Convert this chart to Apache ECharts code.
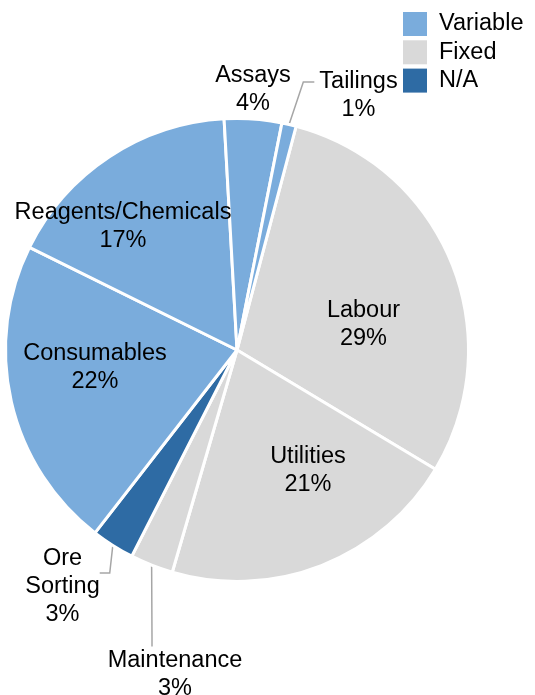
<!DOCTYPE html>
<html><head><meta charset="utf-8">
<script src="https://cdn.jsdelivr.net/npm/echarts@6/dist/echarts.min.js"></script>
<style>html,body{margin:0;padding:0;background:#fff}#chart{width:535px;height:695px}</style>
</head><body><div id="chart"></div>
<script>
// ---- data ----
const categories = ['Labour', 'Utilities', 'Maintenance', 'Ore Sorting', 'Consumables', 'Reagents/Chemicals', 'Assays', 'Tailings'];
const shares = [29.5, 20.9, 3.0, 3.0, 21.8, 16.8, 4.0, 1.0];
const costTypes = ['Fixed', 'Fixed', 'Fixed', 'N/A', 'Variable', 'Variable', 'Variable', 'Variable'];
const legendNames = ['Variable', 'Fixed', 'N/A'];

// ---- styles / label placement ----
const typeColors = { 'Variable': '#7aacdc', 'Fixed': '#d9d9d9', 'N/A': '#2e6ba4' };
const FONT = '"Liberation Sans", Arial, Helvetica, sans-serif';
const FS = 23.5;
const labelPlace = {
  'Labour': { x: 363.5, y: 324.5 },
  'Utilities': { x: 308, y: 470.5 },
  'Consumables': { x: 95, y: 368 },
  'Reagents/Chemicals': { x: 123, y: 226.5 },
  'Assays': { x: 253, y: 89.5, outside: true, line: false, len2: 0 },
  'Tailings': { x: 356, y: 82, outside: true, line: true, len2: 11, padding: [0, 0, 0, 5], pre: ' \n' },
  'Ore Sorting': { x: 62.5, y: 573, outside: true, line: true, len2: 10, pre: ' \n', text: 'Ore\nSorting' },
  'Maintenance': { x: 152, y: 674.5, outside: true, line: true, len2: 10, padding: [0, 0, 0, 46] }
};

const pieData = categories.map(function (name, i) {
  const p = labelPlace[name];
  return {
    name: name,
    value: shares[i],
    itemStyle: { color: typeColors[costTypes[i]] },
    label: p.outside ? {
      position: 'outside',
      padding: p.padding || 0,
      backgroundColor: 'rgba(0,0,0,0)',
      formatter: (p.pre || '') + (p.text || '{b}') + '\n{d}%'
    } : { position: 'inside', formatter: '{b}\n{d}%' },
    labelLine: { show: !!p.line, length2: p.len2 || 0 }
  };
});

const chart = echarts.init(document.getElementById('chart'), null, { renderer: 'canvas' });
chart.setOption({
  animation: false,
  backgroundColor: '#fff',
  legend: {
    orient: 'vertical', left: 403, top: 12, padding: 0,
    itemWidth: 24, itemHeight: 24, itemGap: 4.3,
    icon: 'rect', selectedMode: false,
    data: legendNames,
    textStyle: { fontFamily: FONT, fontSize: FS, color: '#000', padding: [0, 0, 0, 7] }
  },
  series: [
    {
      type: 'pie',
      center: [237, 350],
      radius: 231.5,
      startAngle: 75.2,
      clockwise: true,
      avoidLabelOverlap: false,
      percentPrecision: 0,
      emphasis: { disabled: true },
      itemStyle: { borderColor: '#ffffff', borderWidth: 3 },
      label: { show: true, fontFamily: FONT, fontSize: FS, lineHeight: 28, color: '#000', align: 'center' },
      labelLine: { lineStyle: { color: '#a6a6a6', width: 1.5 }, length: 15 },
      labelLayout: function (prm) {
        const p = labelPlace[categories[prm.dataIndex]];
        return { x: p.x, y: p.y, align: 'center', verticalAlign: 'middle' };
      },
      data: pieData
    },
    {
      type: 'pie',
      center: [237, 350],
      radius: [0, 0],
      silent: true,
      label: { show: false },
      labelLine: { show: false },
      data: legendNames.map(function (n) { return { name: n, value: 0, itemStyle: { color: typeColors[n] } }; })
    }
  ]
});
</script>
</body></html>
